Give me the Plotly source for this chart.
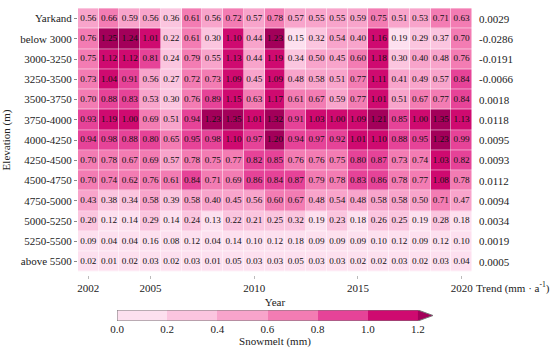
import plotly.graph_objects as go

years = list(range(2002, 2021))
rows = ["Yarkand", "below 3000", "3000-3250", "3250-3500", "3500-3750", "3750-4000",
        "4000-4250", "4250-4500", "4500-4750", "4750-5000", "5000-5250", "5250-5500", "above 5500"]

yarkand    = [0.56, 0.66, 0.59, 0.56, 0.36, 0.61, 0.56, 0.72, 0.57, 0.78, 0.57, 0.55, 0.55, 0.59, 0.75, 0.51, 0.53, 0.71, 0.63]
below3000  = [0.76, 1.25, 1.24, 1.01, 0.22, 0.61, 0.30, 1.10, 0.44, 1.23, 0.15, 0.32, 0.54, 0.40, 1.16, 0.19, 0.29, 0.37, 0.70]
e3000_3250 = [0.75, 1.12, 1.12, 0.81, 0.24, 0.79, 0.55, 1.13, 0.44, 1.19, 0.34, 0.50, 0.45, 0.60, 1.18, 0.30, 0.40, 0.48, 0.76]
e3250_3500 = [0.73, 1.04, 0.91, 0.56, 0.27, 0.72, 0.73, 1.09, 0.45, 1.09, 0.48, 0.58, 0.51, 0.77, 1.11, 0.41, 0.49, 0.57, 0.84]
e3500_3750 = [0.70, 0.88, 0.83, 0.53, 0.30, 0.76, 0.89, 1.15, 0.63, 1.17, 0.61, 0.67, 0.59, 0.77, 1.01, 0.51, 0.67, 0.77, 0.84]
e3750_4000 = [0.93, 1.19, 1.00, 0.69, 0.51, 0.94, 1.23, 1.35, 1.01, 1.32, 0.91, 1.03, 1.00, 1.09, 1.21, 0.85, 1.00, 1.35, 1.13]
e4000_4250 = [0.94, 0.98, 0.88, 0.80, 0.65, 0.95, 0.98, 1.10, 0.97, 1.20, 0.94, 0.97, 0.92, 1.01, 1.10, 0.88, 0.95, 1.23, 0.99]
e4250_4500 = [0.70, 0.78, 0.67, 0.69, 0.57, 0.78, 0.75, 0.77, 0.82, 0.85, 0.76, 0.76, 0.75, 0.80, 0.87, 0.73, 0.74, 1.03, 0.82]
e4500_4750 = [0.70, 0.74, 0.62, 0.76, 0.61, 0.84, 0.71, 0.69, 0.86, 0.84, 0.87, 0.79, 0.78, 0.83, 0.86, 0.78, 0.77, 1.08, 0.78]
e4750_5000 = [0.43, 0.38, 0.34, 0.58, 0.39, 0.58, 0.40, 0.45, 0.56, 0.60, 0.67, 0.48, 0.54, 0.48, 0.58, 0.58, 0.50, 0.71, 0.47]
e5000_5250 = [0.20, 0.12, 0.14, 0.29, 0.14, 0.24, 0.13, 0.22, 0.21, 0.25, 0.32, 0.19, 0.23, 0.18, 0.26, 0.25, 0.19, 0.28, 0.18]
e5250_5500 = [0.09, 0.04, 0.04, 0.16, 0.08, 0.12, 0.04, 0.14, 0.10, 0.12, 0.18, 0.09, 0.09, 0.09, 0.10, 0.12, 0.09, 0.12, 0.10]
above5500  = [0.02, 0.01, 0.02, 0.03, 0.02, 0.03, 0.01, 0.05, 0.03, 0.03, 0.05, 0.03, 0.03, 0.02, 0.02, 0.03, 0.02, 0.03, 0.04]

trends = ["0.0029", "-0.0286", "-0.0191", "-0.0066", "0.0018", "0.0118", "0.0095",
          "0.0093", "0.0112", "0.0094", "0.0034", "0.0019", "0.0005"]

year_ticks = [2002, 2005, 2010, 2015, 2020]
cbar_ticks = [0.0, 0.2, 0.4, 0.6, 0.8, 1.0, 1.2]
cbar_centers = [0.1, 0.3, 0.5, 0.7, 0.9, 1.1]

z = [yarkand, below3000, e3000_3250, e3250_3500, e3500_3750, e3750_4000, e4000_4250,
     e4250_4500, e4500_4750, e4750_5000, e5000_5250, e5250_5500, above5500]

bin_colors = ["#fde0ef", "#fbc5df", "#f8a4cb", "#f37cb3", "#e64398", "#cf0a70", "#a3005a"]
zmin, zmax = 0.0, 1.4
colorscale = []
n = len(bin_colors)
for i, c in enumerate(bin_colors):
    colorscale.append([i / n, c])
    colorscale.append([(i + 1) / n, c])

FONT = "Liberation Serif"

fig = go.Figure()
fig.add_trace(go.Heatmap(
    z=z, x=years, y=rows, colorscale=colorscale, zmin=zmin, zmax=zmax,
    showscale=False, xgap=0.5, ygap=0.5,
    hoverinfo="skip", xaxis="x", yaxis="y"))

# cell labels
tx, ty, tt = [], [], []
for r, vals in zip(rows, z):
    for yr, v in zip(years, vals):
        tx.append(yr)
        ty.append(r)
        tt.append(f"{v:.2f}")
fig.add_trace(go.Scatter(x=tx, y=ty, text=tt, mode="text",
                         textfont=dict(family=FONT, size=9.2, color="#111"),
                         hoverinfo="skip", showlegend=False, xaxis="x", yaxis="y"))

# colorbar drawn as a small heatmap on its own axes (bin edges = tick values)
fig.add_trace(go.Heatmap(
    z=[cbar_centers], x=cbar_ticks, y=[-0.5, 0.5], colorscale=colorscale, zmin=zmin, zmax=zmax,
    showscale=False, hoverinfo="skip", xaxis="x2", yaxis="y2"))

W, H = 550, 351
ml, mr, mt, mb = 78, 0, 5, 0
pw, ph = W - ml - mr, H - mt - mb

def xf(px):
    return (px - ml) / pw

def yf(py):
    return (H - mb - py) / ph

fig.update_layout(
    width=W, height=H, margin=dict(l=ml, r=mr, t=mt, b=mb, autoexpand=False),
    paper_bgcolor="white", plot_bgcolor="white", showlegend=False,
    font=dict(family=FONT, size=11, color="#222"),
    xaxis=dict(domain=[0, xf(472)], range=[2001.5, 2020.5], tickvals=year_ticks,
               ticks="outside", ticklen=3, tickcolor="#bbb", showgrid=False, zeroline=False,
               showline=False, tickfont=dict(family=FONT, size=11), automargin=False,
               title=dict(text="Year", font=dict(family=FONT, size=11), standoff=5)),
    yaxis=dict(domain=[yf(275), yf(5)], autorange="reversed", ticks="outside", ticklen=3,
               tickcolor="#888", showgrid=False, showline=False, automargin=False,
               tickfont=dict(family=FONT, size=11),
               title=dict(text="Elevation (m)", font=dict(family=FONT, size=11), standoff=8)),
    xaxis2=dict(domain=[xf(117), xf(433)], range=[0, 1.26], anchor="y2",
                tickvals=cbar_ticks, ticktext=[f"{t:.1f}" for t in cbar_ticks],
                ticks="", showgrid=False, zeroline=False, showline=False, automargin=False,
                tickfont=dict(family=FONT, size=11),
                title=dict(text="Snowmelt (mm)", font=dict(family=FONT, size=11), standoff=1)),
    yaxis2=dict(domain=[yf(321), yf(310)], range=[-0.5, 0.5], anchor="x2", automargin=False,
                showticklabels=False, showgrid=False, zeroline=False, ticks=""),
)

# extension triangle and outline of colorbar
fig.add_shape(type="path", xref="x2", yref="y2",
              path="M 1.2,-0.5 L 1.26,0 L 1.2,0.5 Z",
              fillcolor=bin_colors[-1], line=dict(width=0))
fig.add_shape(type="path", xref="x2", yref="y2",
              path="M 0,-0.5 L 1.2,-0.5 L 1.26,0 L 1.2,0.5 L 0,0.5 Z",
              fillcolor="rgba(0,0,0,0)", line=dict(color="#777", width=1))

for r, t in zip(rows, trends):
    fig.add_annotation(x=1, xref="x domain", xshift=5, xanchor="left",
                       y=r, yref="y", text=t, showarrow=False,
                       font=dict(size=11, family=FONT))

fig.add_annotation(x=1, xref="x domain", xshift=2, xanchor="left",
                   y=0, yref="y domain", yanchor="top", yshift=-3,
                   text="Trend (mm · a<sup>-1</sup>)", showarrow=False,
                   font=dict(size=11, family=FONT))

fig.write_html("out.html", config={"displayModeBar": False},
               post_script="document.body.style.margin='0';document.body.style.padding='0';")
